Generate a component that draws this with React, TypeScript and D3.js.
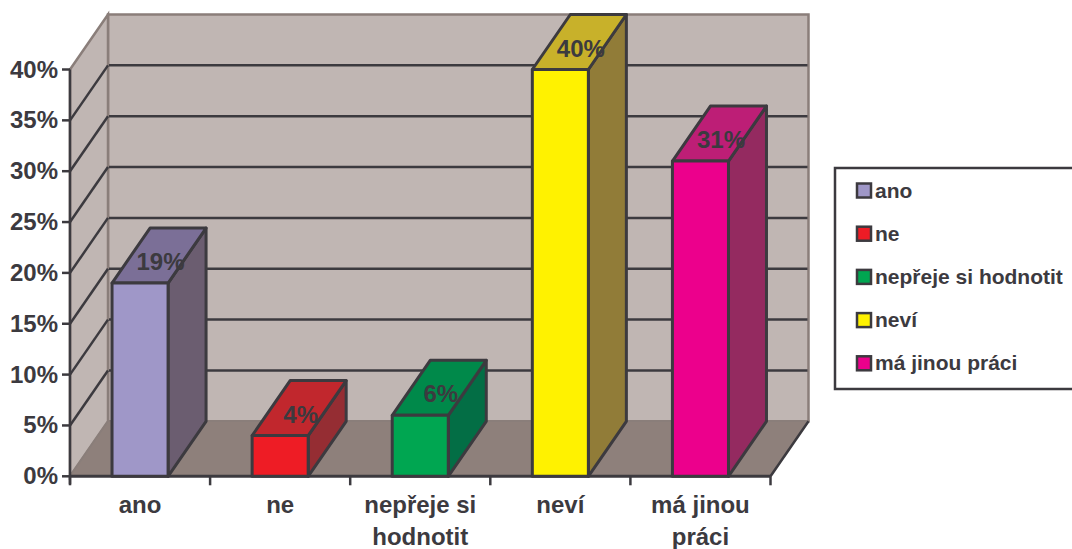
import React from "react";
import * as d3 from "d3";

const categories = ["ano", "ne", "nepřeje si hodnotit", "neví", "má jinou práci"];
const axisLines = [["ano"], ["ne"], ["nepřeje si", "hodnotit"], ["neví"], ["má jinou", "práci"]];
const values = [19, 4, 6, 40, 31];
const yTicks = [0, 5, 10, 15, 20, 25, 30, 35, 40];
const frontColors = ["#9f97c8", "#ee1c25", "#00a651", "#fff200", "#ec008c"];
const topColors = ["#7b6f97", "#c1272d", "#00894a", "#c8b12a", "#bd1e76"];
const sideColors = ["#6b5d70", "#952d33", "#036e45", "#917c38", "#942a60"];

const INK = "#3c3a3f";
const WALL = "#c0b6b3";
const FLOOR = "#8e807b";
const WALL_EDGE = "#8a7e7a";
const FONT = "'Liberation Sans', Arial, sans-serif";

// Oblique projection offset of the back plane
const DX = 38;
const DY = -55;

const x = d3.scaleBand<string>().domain(categories).range([70, 770.5]);
const y = d3.scaleLinear().domain([0, 40]).range([476.3, 69.5]);

const poly = (pts: [number, number][]) => pts.map((p) => p.join(",")).join(" ");

export default function App() {
  const [x0, x1] = x.range();
  const y0 = y(0);
  const yTop = y(40);
  const barW = x.bandwidth() * 0.4;

  return (
    <svg
      width={1072}
      height={549}
      style={{ position: "absolute", left: 0, top: 0, background: "#fff" }}
      fontFamily={FONT}
      fontWeight="bold"
      fill={INK}
    >
      {/* back wall, side wall and floor */}
      <polygon
        points={poly([[x0 + DX, yTop + DY], [x1 + DX, yTop + DY], [x1 + DX, y0 + DY], [x0 + DX, y0 + DY]])}
        fill={WALL}
        stroke={WALL_EDGE}
        strokeWidth={2.5}
      />
      <polygon
        points={poly([[x0, yTop], [x0 + DX, yTop + DY], [x0 + DX, y0 + DY], [x0, y0]])}
        fill={WALL}
        stroke={WALL_EDGE}
        strokeWidth={2.5}
      />
      <polygon
        points={poly([[x0, y0], [x0 + DX, y0 + DY], [x1 + DX, y0 + DY], [x1, y0]])}
        fill={FLOOR}
        stroke={WALL_EDGE}
        strokeWidth={1.5}
      />
      <line x1={x1} y1={y0} x2={x1 + DX} y2={y0 + DY} stroke={INK} strokeWidth={2.5} />

      {/* gridlines on the side and back walls */}
      {yTicks.filter((t) => t > 0 && t < 40).map((t) => (
        <g key={t} stroke={INK} strokeWidth={2.5} fill="none">
          <polyline points={poly([[x0, y(t)], [x0 + DX, y(t) + DY]])} />
          <line x1={x0 + DX + 1} y1={y(t) + DY} x2={x1 + DX - 1} y2={y(t) + DY} />
        </g>
      ))}

      {/* value axis */}
      <line x1={x0} y1={yTop} x2={x0} y2={y0 + 8} stroke={INK} strokeWidth={2.5} />
      {yTicks.map((t) => (
        <g key={t}>
          <line x1={x0 - 8} y1={y(t)} x2={x0} y2={y(t)} stroke={INK} strokeWidth={2.5} />
          <text x={58} y={y(t) + 8} textAnchor="end" fontSize={24}>
            {t}%
          </text>
        </g>
      ))}

      {/* category axis */}
      <line x1={x0} y1={y0} x2={x1} y2={y0} stroke={INK} strokeWidth={3} />
      {[...categories.map((c) => x(c)!), x1].map((px) => (
        <line key={px} x1={px} y1={y0} x2={px} y2={y0 + 9} stroke={INK} strokeWidth={2.5} />
      ))}
      {categories.map((c, i) =>
        axisLines[i].map((line, j) => (
          <text key={line} x={x(c)! + x.bandwidth() / 2} y={513 + j * 32} textAnchor="middle" fontSize={24}>
            {line}
          </text>
        ))
      )}

      {/* extruded bars */}
      {categories.map((c, i) => {
        const left = x(c)! + x.bandwidth() * 0.3;
        const right = left + barW;
        const top = y(values[i]);
        return (
          <g key={c} stroke={INK} strokeWidth={3} strokeLinejoin="round">
            <polygon
              points={poly([[right, top], [right + DX, top + DY], [right + DX, y0 + DY], [right, y0]])}
              fill={sideColors[i]}
            />
            <polygon
              points={poly([[left, top], [left + DX, top + DY], [right + DX, top + DY], [right, top]])}
              fill={topColors[i]}
            />
            <rect x={left} y={top} width={barW} height={y0 - top} fill={frontColors[i]} />
          </g>
        );
      })}

      {/* value labels */}
      {categories.map((c, i) => (
        <text
          key={c}
          x={x(c)! + x.bandwidth() * 0.3 + (barW + DX) / 2 + 1.5}
          y={y(values[i]) + DY / 2 + 14.5}
          textAnchor="middle"
          fontSize={24}
        >
          {values[i]}%
        </text>
      ))}

      {/* legend */}
      <rect x={835} y={168} width={240} height={221} fill="#fff" stroke={INK} strokeWidth={2.5} />
      {categories.map((c, i) => {
        const cy = 190.5 + i * 43.2;
        return (
          <g key={c}>
            <rect x={857} y={cy - 7} width={14} height={14} fill={frontColors[i]} stroke={INK} strokeWidth={2.5} />
            <text x={875} y={cy + 7} fontSize={21}>
              {c}
            </text>
          </g>
        );
      })}
    </svg>
  );
}
